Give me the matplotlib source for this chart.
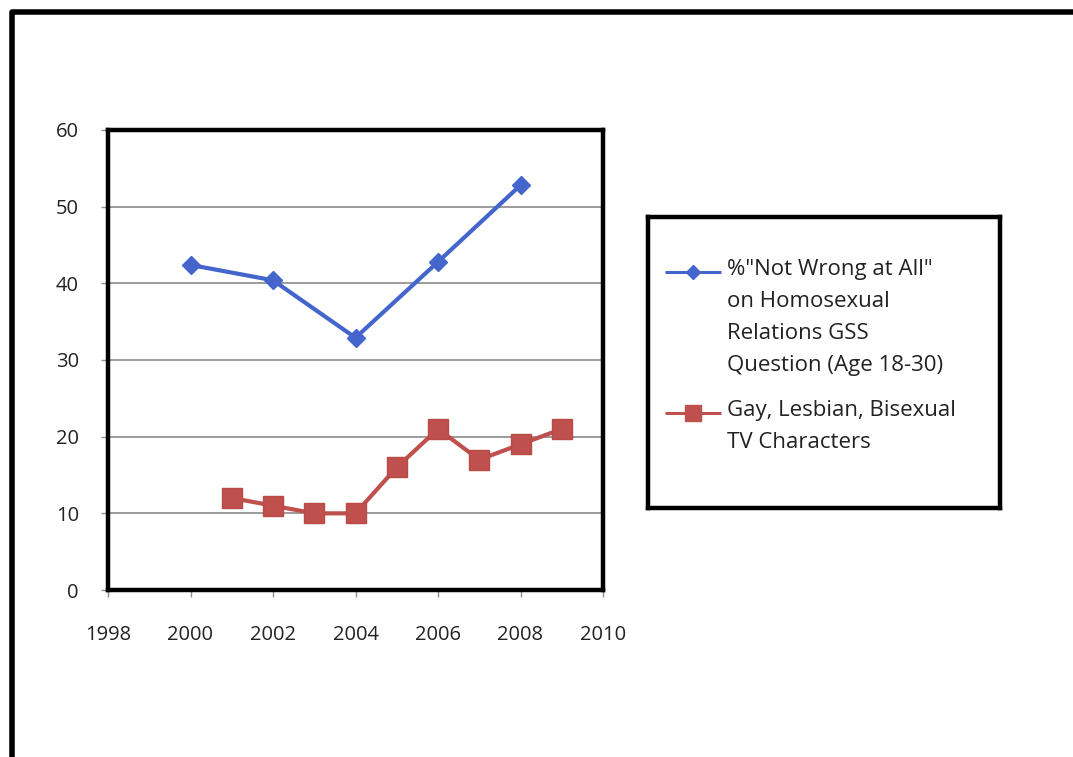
import matplotlib.pyplot as plt
from matplotlib.lines import Line2D

# GSS: share of 18-30 year olds saying homosexual relations are "not wrong at all"
gss_years = [2000, 2002, 2004, 2006, 2008]
gss_pct = [42.4, 40.4, 32.9, 42.8, 52.8]

# LGB characters on broadcast TV by season
tv_years = [2001, 2002, 2003, 2004, 2005, 2006, 2007, 2008, 2009]
tv_chars = [12, 11, 10, 10, 16, 21, 17, 19, 21]

gss_label = '%"Not Wrong at All"\non Homosexual\nRelations GSS\nQuestion (Age 18-30)'
tv_label = 'Gay, Lesbian, Bisexual\nTV Characters'

x_ticks = list(range(1998, 2011, 2))
y_ticks = list(range(0, 61, 10))

blue = '#4466cc'
red = '#c0504d'
text_col = '#222222'

plt.rcParams['font.family'] = ['Open Sans', 'DejaVu Sans']

W, H = 1073, 757
fig = plt.figure(figsize=(W / 100, H / 100), dpi=100)
fig.patch.set_facecolor('white')

ax = fig.add_axes([108 / W, 1 - 590 / H, 495 / W, 460 / H])
ax.plot(gss_years, gss_pct, color=blue, lw=3, marker='D', markersize=9,
        markerfacecolor=blue, markeredgecolor=blue, zorder=3)
ax.plot(tv_years, tv_chars, color=red, lw=3, marker='s', markersize=14,
        markerfacecolor=red, markeredgecolor='#b94a46', zorder=3)

ax.set_xlim(1998, 2010)
ax.set_ylim(0, 60)
ax.set_xticks(x_ticks)
ax.set_yticks(y_ticks)
ax.yaxis.grid(True, color='#8a8a8a', lw=1.2)
ax.set_axisbelow(True)
for s in ax.spines.values():
    s.set_linewidth(3.2)
    s.set_color('black')
ax.tick_params(axis='x', length=5, width=1, color='#909090', pad=20,
               labelsize=14.5, labelcolor=text_col)
ax.tick_params(axis='y', length=5, width=1, color='#909090', pad=16,
               labelsize=14.5, labelcolor=text_col)

# legend box, drawn by hand in pixel-like coordinates
lax = fig.add_axes([648 / W, 1 - 508 / H, 352 / W, 291 / H])
lax.set_xlim(648, 1000)
lax.set_ylim(508, 217)
lax.set_xticks([])
lax.set_yticks([])
for s in lax.spines.values():
    s.set_linewidth(3.2)
    s.set_color('black')

entries = [
    (gss_label, blue, 'D', 7, 272),
    (tv_label, red, 's', 12, 413),
]
for label, col, mk, ms, y in entries:
    lax.plot([665, 721], [y, y], color=col, lw=2.2, solid_capstyle='butt')
    lax.plot([693], [y], color=col, marker=mk, markersize=ms, linestyle='none')
    lax.text(727, y - 13, label, fontsize=16, color=text_col, va='top', ha='left',
             linespacing=1.68)

# outer frame: left and top edges only
fig.add_artist(Line2D([12 / W, 12 / W, 1.0], [0.0, 1 - 12 / H, 1 - 12 / H],
                      transform=fig.transFigure, color='black', lw=4))

fig.savefig('out.png', dpi=100, facecolor='white')
